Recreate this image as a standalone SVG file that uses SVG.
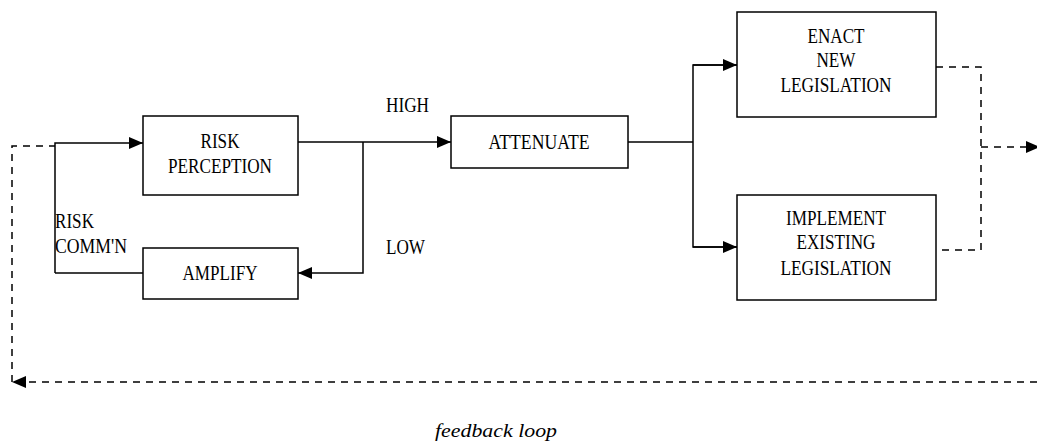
<svg xmlns="http://www.w3.org/2000/svg" width="1037" height="443" viewBox="0 0 1037 443">
<style>
.box{fill:#fff;stroke:#000;stroke-width:1.5}
.ln{fill:none;stroke:#000;stroke-width:1.5}
.dash{fill:none;stroke:#000;stroke-width:1.5;stroke-dasharray:7 6}
text{font-family:"Liberation Serif","Times New Roman",serif;font-size:20px;fill:#000}
.c{text-anchor:middle}
.it{font-style:italic;font-size:19px}
</style>
<defs>
<marker id="ah" markerUnits="userSpaceOnUse" markerWidth="15" markerHeight="13" refX="14" refY="6" orient="auto">
<path d="M0,0 L14,6 L0,12 z" fill="#000"/>
</marker>
</defs>
<rect width="1037" height="443" fill="#fff"/>
<g id="connectors">
<path class="ln" d="M55,273 L55,143 L143,143" marker-end="url(#ah)"/>
<line class="ln" x1="55" y1="273" x2="143" y2="273"/>
<line class="ln" x1="298" y1="142" x2="451" y2="142" marker-end="url(#ah)"/>
<path class="ln" d="M363,142 L363,273 L298,273" marker-end="url(#ah)"/>
<line class="ln" x1="628" y1="142" x2="693" y2="142"/>
<path class="ln" d="M737,65 L693,65 L693,247 L737,247"/>
<line class="ln" x1="693" y1="65" x2="737" y2="65" marker-end="url(#ah)"/>
<line class="ln" x1="693" y1="247" x2="737" y2="247" marker-end="url(#ah)"/>
<path class="dash" d="M936,67 L981,67 L981,250 L936,250"/>
<line class="dash" x1="981" y1="147" x2="1040" y2="147" marker-end="url(#ah)"/>
<line class="dash" x1="1037" y1="382" x2="12" y2="382" marker-end="url(#ah)"/>
<path class="dash" d="M12,382 L12,146 L55,146"/>
<text x="386" y="112" textLength="43" lengthAdjust="spacingAndGlyphs">HIGH</text>
<text x="386" y="254" textLength="39" lengthAdjust="spacingAndGlyphs">LOW</text>
<text x="55" y="228" textLength="39" lengthAdjust="spacingAndGlyphs">RISK</text>
<text x="55" y="253" textLength="72" lengthAdjust="spacingAndGlyphs">COMM'N</text>
<text class="it" x="435" y="437" textLength="122" lengthAdjust="spacingAndGlyphs">feedback loop</text>
</g>
<g id="risk-perception">
<rect class="box" x="143" y="116" width="155" height="79"/>
<text class="c" x="220" y="148" textLength="39" lengthAdjust="spacingAndGlyphs">RISK</text>
<text class="c" x="220" y="173" textLength="104" lengthAdjust="spacingAndGlyphs">PERCEPTION</text>
</g>
<g id="amplify">
<rect class="box" x="143" y="248" width="155" height="51"/>
<text class="c" x="220" y="280" textLength="75" lengthAdjust="spacingAndGlyphs">AMPLIFY</text>
</g>
<g id="attenuate">
<rect class="box" x="451" y="116" width="177" height="52"/>
<text class="c" x="539" y="149" textLength="101" lengthAdjust="spacingAndGlyphs">ATTENUATE</text>
</g>
<g id="enact">
<rect class="box" x="737" y="12" width="199" height="105"/>
<text class="c" x="836" y="43" textLength="57" lengthAdjust="spacingAndGlyphs">ENACT</text>
<text class="c" x="836" y="67" textLength="39" lengthAdjust="spacingAndGlyphs">NEW</text>
<text class="c" x="836" y="92" textLength="111" lengthAdjust="spacingAndGlyphs">LEGISLATION</text>
</g>
<g id="implement">
<rect class="box" x="737" y="195" width="199" height="105"/>
<text class="c" x="836" y="225" textLength="100" lengthAdjust="spacingAndGlyphs">IMPLEMENT</text>
<text class="c" x="836" y="249" textLength="79" lengthAdjust="spacingAndGlyphs">EXISTING</text>
<text class="c" x="836" y="275" textLength="111" lengthAdjust="spacingAndGlyphs">LEGISLATION</text>
</g>
</svg>
